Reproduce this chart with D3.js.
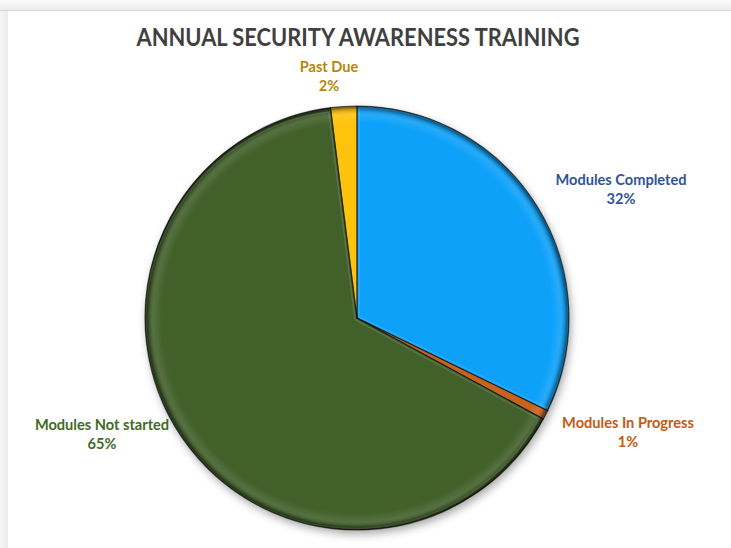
<!DOCTYPE html>
<html><head><meta charset="utf-8">
<script src="https://cdn.jsdelivr.net/npm/d3@7"></script>
<style>html,body{margin:0;padding:0;background:#fff;}svg{display:block;}</style>
</head><body>
<svg id="c" width="731" height="548"></svg>
<script>
const title = "ANNUAL SECURITY AWARENESS TRAINING";
const categories = ["Modules Completed", "Modules In Progress", "Modules Not started", "Past Due"];
const values = [32.2, 0.7, 65.1, 2.0];
const percentLabels = ["32%", "1%", "65%", "2%"];
const colors = ["#09a1f9", "#c8641e", "#42612a", "#ffc30a"];
const labelColors = ["#2f5597", "#c55a11", "#3f6b25", "#b8860b"];

const W = 731, H = 548;
const cx = 357, cy = 318, R = 212;
// label anchor layout (positions, not data)
const labelPos = [[621, 180], [628, 423], [102, 425], [329, 67]];

const svg = d3.select("#c");
const defs = svg.append("defs");

// frame (screenshot chrome)
svg.append("rect").attr("x",0).attr("y",0).attr("width",W).attr("height",H).attr("fill","#fff");
const topG = defs.append("linearGradient").attr("id","topg").attr("x1",0).attr("y1",0).attr("x2",0).attr("y2",1);
topG.append("stop").attr("offset",0).attr("stop-color","#fbfbfb");
topG.append("stop").attr("offset",1).attr("stop-color","#ececec");
svg.append("rect").attr("x",0).attr("y",0).attr("width",W).attr("height",10).attr("fill","url(#topg)");
svg.append("line").attr("x1",0).attr("x2",W).attr("y1",10.5).attr("y2",10.5).attr("stroke","#d6d6d6");
const leftG = defs.append("linearGradient").attr("id","leftg").attr("x1",0).attr("y1",0).attr("x2",1).attr("y2",0);
leftG.append("stop").attr("offset",0).attr("stop-color","#f6f6f6");
leftG.append("stop").attr("offset",1).attr("stop-color","#ececec");
svg.append("rect").attr("x",0).attr("y",11).attr("width",8).attr("height",H-11).attr("fill","url(#leftg)");

// drop shadow
const sh = defs.append("filter").attr("id","shadow").attr("x","-20%").attr("y","-20%").attr("width","140%").attr("height","140%");
sh.append("feDropShadow").attr("dx",2).attr("dy",4).attr("stdDeviation",4).attr("flood-color","#000").attr("flood-opacity",0.35);

// bevel rim gradient
const rim = defs.append("radialGradient").attr("id","rim").attr("gradientUnits","userSpaceOnUse")
  .attr("cx",cx).attr("cy",cy).attr("r",R);
rim.append("stop").attr("offset",0.92).attr("stop-color","#fff").attr("stop-opacity",0);
rim.append("stop").attr("offset",0.96).attr("stop-color","#fff").attr("stop-opacity",0.1);
rim.append("stop").attr("offset",0.985).attr("stop-color","#000").attr("stop-opacity",0.25);
rim.append("stop").attr("offset",1).attr("stop-color","#000").attr("stop-opacity",0.7);

const pie = d3.pie().sort(null).value(d => d)(values);
const arc = d3.arc().innerRadius(0).outerRadius(R);

const g = svg.append("g").attr("transform",`translate(${cx},${cy})`);
const pg = g.append("g").attr("filter","url(#shadow)");
pg.selectAll("path.slice").data(pie).join("path")
  .attr("class","slice")
  .attr("d",arc)
  .attr("fill",(d,i)=>colors[i]);
// rim overlay
svg.append("circle").attr("cx",cx).attr("cy",cy).attr("r",R).attr("fill","url(#rim)");
// slice edges (bevel lines)
const eg = svg.append("g").attr("transform",`translate(${cx},${cy})`);
eg.selectAll("path.hl").data(pie).join("path")
  .attr("class","hl")
  .attr("d",d3.arc().innerRadius(0).outerRadius(R-3))
  .attr("fill","none")
  .attr("stroke","rgba(255,255,255,0.12)")
  .attr("stroke-width",1.5)
  .attr("transform",(d)=>{const m=(d.startAngle+d.endAngle)/2;return `translate(${Math.sin(m)*2.5},${-Math.cos(m)*2.5})`;});
eg.selectAll("path.edge").data(pie).join("path")
  .attr("class","edge")
  .attr("d",arc)
  .attr("fill","none")
  .attr("stroke","rgba(0,0,0,0.55)")
  .attr("stroke-width",1.2)
  .attr("stroke-linejoin","round");

// title
svg.append("text").attr("x",358).attr("y",46).attr("text-anchor","middle")
  .attr("font-family","Lato, 'Open Sans', sans-serif").attr("font-weight","bold")
  .attr("font-size",24).attr("fill","#404040")
  .attr("textLength",443).attr("lengthAdjust","spacingAndGlyphs").text(title);

// labels
const lab = svg.selectAll("g.lab").data(categories).join("g").attr("class","lab")
  .attr("transform",(d,i)=>`translate(${labelPos[i][0]},${labelPos[i][1]})`);
lab.append("text").attr("text-anchor","middle").attr("y",5)
  .attr("font-family","Lato, 'Open Sans', sans-serif").attr("font-weight","bold")
  .attr("font-size",14.6).attr("fill",(d,i)=>labelColors[i]).text(d=>d);
lab.append("text").attr("text-anchor","middle").attr("y",24)
  .attr("font-family","Lato, 'Open Sans', sans-serif").attr("font-weight","bold")
  .attr("font-size",14.6).attr("fill",(d,i)=>labelColors[i]).text((d,i)=>percentLabels[i]);
</script>
</body></html>
